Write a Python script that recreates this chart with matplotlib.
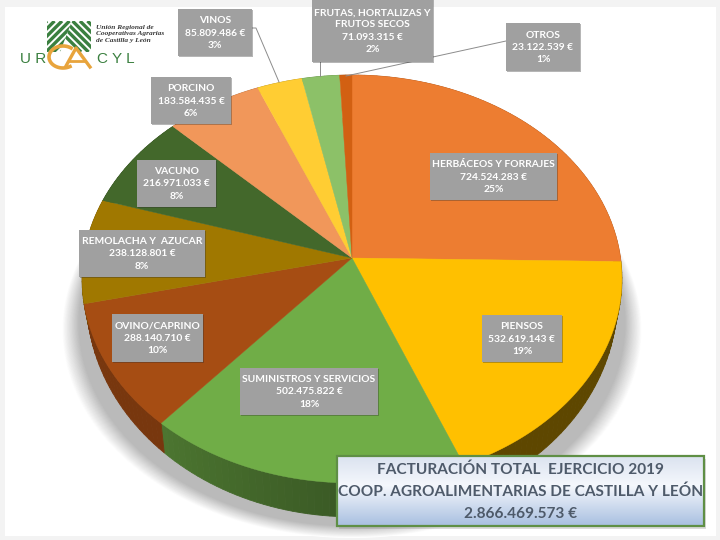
import numpy as np
import matplotlib
matplotlib.use("Agg")
import matplotlib.pyplot as plt
from matplotlib.colors import to_rgb
from matplotlib.patches import Rectangle, Polygon

categories = [
    "HERBÁCEOS Y FORRAJES", "PIENSOS", "SUMINISTROS Y SERVICIOS", "OVINO/CAPRINO",
    "REMOLACHA Y  AZUCAR", "VACUNO", "PORCINO", "VINOS",
    "FRUTAS, HORTALIZAS Y\nFRUTOS SECOS", "OTROS",
]
amounts = [724524283, 532619143, 502475822, 288140710, 238128801,
           216971033, 183584435, 85809486, 71093315, 23122539]
colors = ["#ED7D31", "#FFC000", "#70AD47", "#A64D13", "#A07800",
          "#43682B", "#F1975A", "#FFCD33", "#8CC168", "#D26012"]
title_lines = ["FACTURACIÓN TOTAL  EJERCICIO 2019",
               "COOP. AGROALIMENTARIAS DE CASTILLA Y LEÓN",
               "2.866.469.573 €"]

# label boxes: left, top, right, bottom in pixels
boxes = [(430, 153, 557, 200), (482, 315, 562, 362), (240, 368, 378, 415),
         (112, 314, 203, 362), (79, 230, 205, 277), (137, 160, 216, 207),
         (151, 77, 231, 124), (178, 9, 252, 56), (312, -1, 433, 62), (506, 23, 580, 71)]

# perspective of the top face and of the bottom rim
TOP = dict(a=268.5, b=201.8, k=0.103, x0=352, y0=258)
BOTTOM = dict(a=264.0, b=216.0, k=0.103, x0=352, y0=276)


def project(theta, a, b, k, x0, y0):
    # theta clockwise from 12 o'clock on the unit circle
    cx, cy = np.sin(theta), np.cos(theta)
    w = 1 + k * cy
    return x0 + a * cx / w, y0 - b * cy / w


def shade(color, f):
    return tuple(c * f for c in to_rgb(color))


def euro(v):
    return f"{v:,}".replace(",", ".") + " €"


fig = plt.figure(figsize=(7.2, 5.4), dpi=100, facecolor="#f3f3f3")
ax = fig.add_axes([0, 0, 1, 1])
ax.set_axis_off()
ax.add_patch(Rectangle((5, 7), 711, 529, fc="white", ec="none", zorder=0))

# soft shadow under the pie: rings from the outside in
ring = np.linspace(0, 2 * np.pi, 200)
for u in np.linspace(0, 1, 40):
    ring_y = 330 - 12 * u
    rx = 290 - 28 * u
    ry = 208 - 8 * u
    g = 1 - 0.27 * min(1, u / 0.6)
    ax.fill(352 + rx * np.cos(ring), ring_y + ry * np.sin(ring), facecolor=(g, g, g),
            edgecolor="none", zorder=1.5)

edges = 2 * np.pi * np.concatenate([[0], np.cumsum(amounts)]) / np.sum(amounts)

# side wall, cut in thin strips to get the shading
for i, col in enumerate(colors):
    t = np.linspace(edges[i], edges[i + 1], max(3, int((edges[i + 1] - edges[i]) * 40)))
    for t0, t1 in zip(t[:-1], t[1:]):
        tm = 0.5 * (t0 + t1)
        if col == "#70AD47":
            f = 0.42 + 0.26 * (tm - edges[i]) / (edges[i + 1] - edges[i])
        else:
            f = 0.37 if col == "#FFC000" else 0.72
        seg = np.array([t0, t1])
        xt, yt = project(seg, **TOP)
        xb, yb = project(seg, **BOTTOM)
        ax.fill([xt[0], xt[1], xb[1], xb[0]], [yt[0], yt[1], yb[1], yb[0]],
                color=shade(col, f), lw=0.6, zorder=2)

# top face
for i, col in enumerate(colors):
    t = np.linspace(edges[i], edges[i + 1], 120)
    x, y = project(t, **TOP)
    ax.fill(np.r_[TOP["x0"], x], np.r_[TOP["y0"], y], color=col, lw=0.3, zorder=3)

# leader lines
line_kw = dict(color="#8c8c8c", lw=0.7, zorder=4)
ax.plot([252, 256, 279], [28, 28, 82], **line_kw)
ax.plot([320, 320], [60, 76], **line_kw)
ax.plot([506, 346], [41, 76], **line_kw)

# data labels
for name, v, (l, t, r, b) in zip(categories, amounts, boxes):
    ax.add_patch(Rectangle((l + 1.2, t + 1.2), r - l, b - t, fc="#303030", alpha=0.35, ec="none", zorder=5))
    ax.add_patch(Rectangle((l, t), r - l, b - t, fc="#A0A0A0", ec="none", zorder=6))
    pct = round(100 * v / sum(amounts))
    txt = f"{name}\n{euro(v)}\n{pct}%"
    ax.text((l + r) / 2, (t + b) / 2 + 0.5, txt, color="white", fontsize=7.4, family="Lato",
            fontweight="bold", ha="center", va="center", linespacing=1.45, zorder=7)

# total box with the vertical gradient
ax.add_patch(Rectangle((338.5, 458.5), 367, 70, fc="#888888", alpha=0.3, ec="none", zorder=8))
stops = np.array([[0.86, 0.89, 0.94], [0.96, 0.97, 0.99], [0.66, 0.75, 0.88]])
pos = np.linspace(0, 1, 70)
grad = np.stack([np.interp(pos, [0, 0.42, 1], stops[:, c]) for c in range(3)], axis=1)[:, None, :]
ax.imshow(grad, extent=(337, 704, 526, 456), aspect="auto", zorder=9)
ax.add_patch(Rectangle((337, 456), 367, 70, fc="none", ec="#5F8F45", lw=1.6, zorder=10))
for y, line in zip([470, 492, 514], title_lines):
    ax.text(520.5, y, line, color="#4E5A6A", fontsize=11.1, family="Lato", fontweight="bold",
            ha="center", va="center", zorder=11)

# logo
green = "#3B8040"
orange = "#E8A43C"
for s in np.arange(0, 64, 7.5):
    ln, = ax.plot([47 + s - 31, 47 + s], [52, 21], color=green, lw=2.4, zorder=4, solid_capstyle="butt")
    ln.set_clip_path(Polygon([(47, 21), (72, 21), (60, 52), (47, 52)], transform=ax.transData))
for s in np.arange(0, 64, 7.5):
    ln, = ax.plot([60 + s - 10, 60 + s + 21], [21, 52], color=green, lw=2.4, zorder=4, solid_capstyle="butt")
    ln.set_clip_path(Polygon([(72, 21), (91, 21), (91, 52), (60, 52)], transform=ax.transData))
arc = np.linspace(np.radians(55), np.radians(300), 60)
ax.plot(63 + 14 * np.cos(arc), 57 - 11 * np.sin(arc), color=orange, lw=2.6, zorder=5)
ax.plot([66, 76, 90], [66, 48, 67], color=orange, lw=2.4, zorder=5)
ax.plot([70, 84], [61, 61], color=orange, lw=2.0, zorder=5)
ax.text(33, 59, "U R", color=green, fontsize=11, family="Liberation Sans", ha="center", va="center", zorder=5)
ax.text(116, 59, "C Y L", color=green, fontsize=11, family="Liberation Sans", ha="center", va="center", zorder=5)
ax.text(96, 34, "Unión Regional de\nCooperativas Agrarias\nde Castilla y León", color="#3a3a3a",
        fontsize=5.3, family="Liberation Serif", style="italic", fontweight="bold",
        ha="left", va="center", linespacing=1.37, zorder=5)

ax.set_xlim(0, 720)
ax.set_ylim(540, 0)
fig.savefig("out.png", dpi=100, facecolor=fig.get_facecolor())
